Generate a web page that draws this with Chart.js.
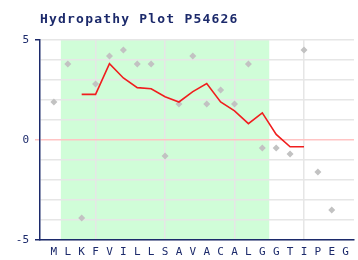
<!DOCTYPE html>
<html>
<head>
<meta charset="utf-8">
<script src="https://cdn.jsdelivr.net/npm/chart.js@4/dist/chart.umd.min.js"></script>
<style>
html,body{margin:0;padding:0;background:#fff;}
canvas{display:block;}
</style>
</head>
<body>
<canvas id="c" width="358" height="260"></canvas>
<script>
const chartTitle = "Hydropathy Plot P54626";
const residues = ["M","L","K","F","V","I","L","L","S","A","V","A","C","A","L","G","G","T","I","P","E","G"];
const residueScores = [1.9,3.8,-3.9,2.8,4.2,4.5,3.8,3.8,-0.8,1.8,4.2,1.8,2.5,1.8,3.8,-0.4,-0.4,-0.7,4.5,-1.6,-3.5,null];
const windowScores = [null,null,2.28,2.28,3.82,3.1,2.62,2.56,2.16,1.9,2.42,2.82,1.9,1.46,0.82,1.36,0.28,-0.34,-0.34,null,null,null];
const yTickLabels = [-5,0,5];
const regionStart = 1.5, regionEnd = 16.5;

const navy = "#1c2a6b";
const gridGrey = "#e6e6e6";
const zeroPink = "#ffc4c4";

const bandPlugin = {
  id: "band",
  beforeDraw(chart) {
    const {ctx, chartArea, scales} = chart;
    const x0 = scales.x.getPixelForValue(regionStart);
    const x1 = scales.x.getPixelForValue(regionEnd);
    ctx.save();
    ctx.fillStyle = "#d0fdd8";
    ctx.fillRect(x0, chartArea.top, x1 - x0, chartArea.bottom - chartArea.top);
    ctx.restore();
  }
};
const titlePlugin = {
  id: "pixTitle",
  afterDraw(chart) {
    const ctx = chart.ctx;
    ctx.save();
    ctx.font = "bold 13px 'DejaVu Sans Mono'";
    ctx.fillStyle = navy;
    ctx.textBaseline = "alphabetic";
    ctx.letterSpacing = "1.2px";
    ctx.fillText(chartTitle, 40, 23);
    ctx.restore();
  }
};

new Chart(document.getElementById("c"), {
  type: "line",
  data: {
    datasets: [
      {
        label: "window",
        data: windowScores.map((v, i) => ({x: i + 1, y: v})),
        borderColor: "rgb(240,30,30)",
        borderWidth: 1.6,
        pointRadius: 0,
        tension: 0,
        spanGaps: false,
        fill: false,
        order: 1
      },
      {
        label: "residues",
        data: residueScores.map((v, i) => ({x: i + 1, y: v})),
        showLine: false,
        pointStyle: "rectRot",
        pointRadius: 3.5,
        pointBackgroundColor: "#c2c2c2",
        pointBorderColor: "#c2c2c2",
        pointBorderWidth: 0,
        order: 2
      }
    ]
  },
  options: {
    responsive: false,
    animation: false,
    layout: {padding: {top: 40, left: 0, right: 0, bottom: 0}},
    plugins: {legend: {display: false}, title: {display: false}, tooltip: {enabled: false}},
    scales: {
      x: {
        type: "linear",
        min: 0,
        max: 22.6,
        afterBuildTicks(scale) { scale.ticks = residues.map((r, i) => ({value: i + 1})); },
        afterFit(scale) { scale.height = 20; },
        ticks: {
          autoSkip: false,
          maxRotation: 0,
          padding: 6,
          color: navy,
          font: {family: "'DejaVu Sans Mono'", size: 11},
          callback: (v) => residues[v - 1] || ""
        },
        grid: {
          drawTicks: false,
          color: (c) => ([4, 9, 14, 19].includes(c.tick && c.tick.value) ? gridGrey : "rgba(0,0,0,0)"),
          lineWidth: 1.5
        },
        border: {display: true, color: navy, width: 1.5}
      },
      y: {
        type: "linear",
        min: -5,
        max: 5,
        afterBuildTicks(scale) {
          const t = [];
          for (let v = -5; v <= 5; v++) t.push({value: v});
          scale.ticks = t;
        },
        afterFit(scale) { scale.width = 40; },
        ticks: {
          padding: 6,
          crossAlign: "near",
          color: navy,
          font: {family: "'DejaVu Sans Mono'", size: 11},
          callback: (v) => (yTickLabels.includes(v) ? String(v) : "")
        },
        grid: {
          tickLength: 5,
          color: (c) => (c.tick && c.tick.value === 0 ? zeroPink : gridGrey),
          tickColor: (c) => {
            const v = c.tick && c.tick.value;
            if (v === 0) return zeroPink;
            if (v === 5 || v === -5) return navy;
            return "rgba(0,0,0,0)";
          },
          lineWidth: 1.5
        },
        border: {display: true, color: navy, width: 1.5}
      }
    }
  },
  plugins: [bandPlugin, titlePlugin]
});
</script>
</body>
</html>
